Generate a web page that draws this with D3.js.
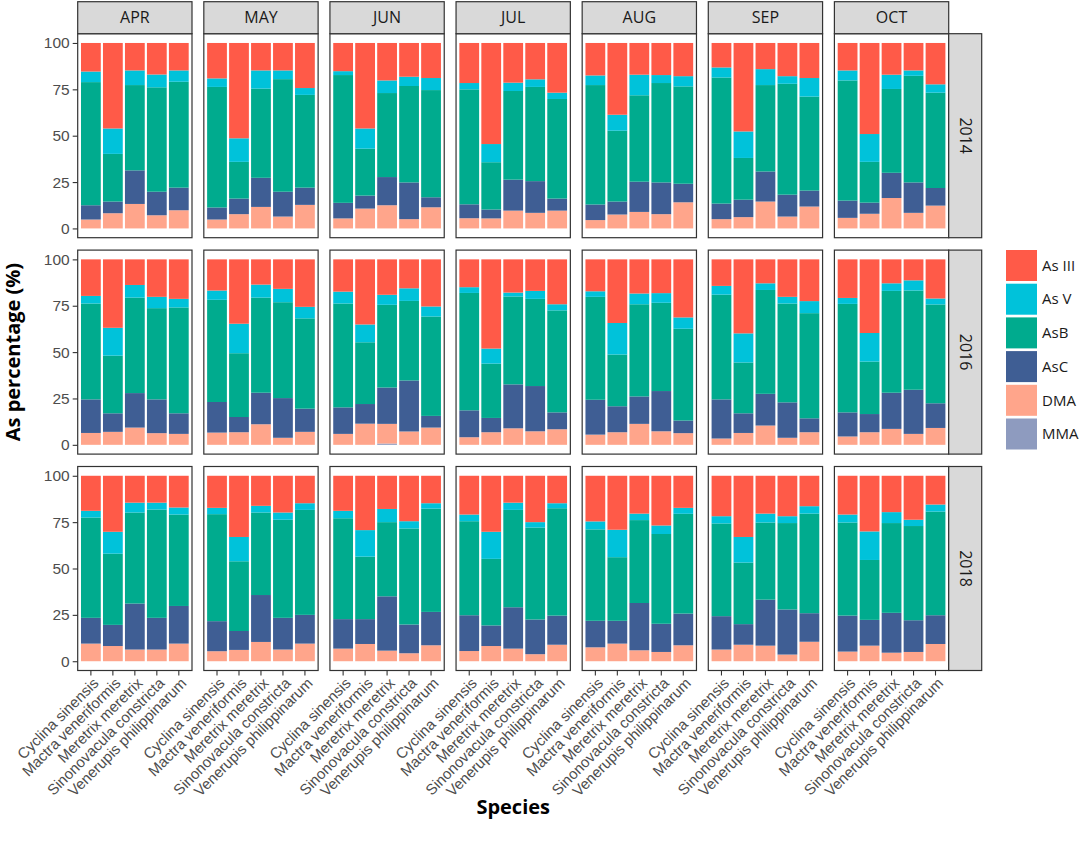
<!DOCTYPE html>
<html>
<head>
<meta charset="utf-8">
<script src="https://cdn.jsdelivr.net/npm/d3@7"></script>
<style>
  body { margin: 0; background: #fff; }
  svg { display: block; font-family: "Open Sans", "Noto Sans", sans-serif; }
</style>
</head>
<body>
<div id="chart"></div>
<script>
// Facets, categories and legend
const years = ['2014', '2016', '2018'];
const months = ['APR', 'MAY', 'JUN', 'JUL', 'AUG', 'SEP', 'OCT'];
const species = ['Cyclina sinensis', 'Mactra veneriformis', 'Meretrix meretrix',
    'Sinonovacula constricta', 'Venerupis philippinarum'];
const forms = ['As III', 'As V', 'AsB', 'AsC', 'DMA', 'MMA'];
const formColors = ['#ff5a48', '#00c2da', '#00ab8e', '#3f5e94', '#ffa58b', '#8e9bbf'];
const yTicks = [0, 25, 50, 75, 100];

// Percentages, 35 values per year: APR..OCT, each month the 5 species in order
const asIII2014 = [15.4, 46.1, 14.8, 17.0, 14.8, 19.1, 51.4, 14.8, 14.8, 24.3, 15.2, 46.1, 20.2, 18.2, 18.9,
    21.6, 54.5, 21.4, 19.6, 26.8, 17.5, 38.7, 17.1, 17.3, 17.9, 13.2, 47.7, 14.1, 17.9, 18.9, 14.8, 49.1, 17.1, 14.8, 22.3];
const asV2014 = [5.7, 13.7, 7.9, 6.9, 6.1, 4.6, 12.7, 9.8, 4.7, 3.7, 2.1, 10.9, 6.8, 5.0, 6.5,
    3.4, 9.8, 4.5, 4.1, 3.4, 5.2, 8.6, 11.1, 4.3, 5.5, 5.4, 14.3, 8.6, 4.1, 10.0, 5.4, 15.0, 7.7, 2.9, 4.5];
const asB2014 = [66.4, 25.7, 46.0, 56.3, 57.1, 65.0, 19.8, 48.1, 60.7, 50.0, 68.9, 25.3, 45.3, 52.0, 57.8,
    62.0, 25.5, 47.8, 50.8, 53.7, 64.4, 38.2, 46.6, 53.6, 52.5, 68.0, 22.5, 46.6, 59.8, 50.7, 64.8, 22.0, 45.2, 57.5, 51.4];
const asC2014 = [7.7, 6.3, 18.1, 12.7, 12.2, 6.5, 8.4, 15.7, 13.4, 9.3, 8.4, 7.0, 15.2, 19.8, 5.4,
    7.5, 4.8, 16.7, 17.1, 6.5, 8.4, 7.0, 16.3, 17.1, 10.0, 8.4, 9.4, 16.2, 11.8, 8.6, 9.3, 6.0, 13.6, 16.4, 9.5];
const dma2014 = [4.8, 8.2, 13.2, 7.1, 9.8, 4.8, 7.7, 11.6, 6.4, 12.7, 5.4, 10.7, 12.5, 5.0, 11.4,
    5.5, 5.4, 9.6, 8.4, 9.6, 4.5, 7.5, 8.9, 7.7, 14.1, 5.0, 6.1, 14.5, 6.4, 11.8, 5.7, 7.9, 16.4, 8.4, 12.3];

const asIII2016 = [19.7, 36.9, 13.8, 20.2, 21.3, 16.8, 34.7, 13.6, 15.9, 25.6, 17.4, 35.1, 19.1, 15.6, 25.4,
    15.0, 48.1, 17.9, 17.0, 24.2, 17.2, 34.3, 18.4, 18.2, 31.3, 14.3, 39.9, 12.9, 20.2, 22.5, 20.8, 39.7, 12.9, 11.3, 21.1];
const asV2016 = [4.1, 15.0, 6.8, 6.1, 4.6, 5.0, 15.9, 7.0, 7.2, 6.2, 6.4, 9.6, 5.4, 6.8, 5.4,
    3.1, 8.1, 2.1, 4.3, 3.3, 3.0, 17.0, 5.8, 5.2, 6.1, 4.7, 15.7, 3.6, 3.6, 6.5, 3.2, 15.4, 4.1, 5.5, 3.2];
const asB2016 = [51.7, 31.1, 51.5, 49.2, 57.1, 55.1, 34.4, 51.3, 51.7, 48.7, 56.0, 33.3, 44.6, 42.9, 53.6,
    63.3, 29.3, 47.4, 47.0, 55.0, 55.5, 27.9, 49.7, 47.6, 49.5, 56.5, 27.4, 56.0, 53.3, 56.7, 58.5, 28.3, 54.9, 53.5, 53.3];
const asC2016 = [18.1, 10.0, 18.6, 18.2, 11.1, 16.5, 8.2, 17.0, 21.4, 12.5, 14.3, 10.6, 19.6, 27.5, 6.3,
    14.5, 7.7, 23.7, 24.4, 9.1, 18.8, 14.0, 14.8, 21.7, 6.8, 21.1, 10.6, 17.1, 19.1, 7.5, 13.0, 9.8, 19.5, 23.8, 13.3];
const dma2016 = [6.4, 7.0, 9.3, 6.3, 5.9, 6.6, 6.8, 11.1, 3.8, 7.0, 5.9, 11.4, 10.6, 7.2, 9.3,
    4.1, 6.8, 8.9, 7.3, 8.4, 5.5, 6.8, 11.3, 7.3, 6.3, 3.4, 6.4, 10.4, 3.8, 6.8, 4.5, 6.8, 8.6, 5.9, 9.1];

const asIII2018 = [18.9, 30.2, 14.5, 14.5, 17.1, 17.3, 33.0, 16.2, 19.8, 14.8, 18.9, 29.3, 17.9, 24.5, 14.8,
    20.9, 30.2, 14.5, 25.0, 14.8, 24.6, 29.1, 20.4, 26.8, 17.3, 21.8, 33.0, 20.4, 21.8, 16.4, 20.9, 30.0, 19.6, 23.7, 15.5];
const asV2018 = [3.6, 11.8, 5.3, 3.7, 3.8, 3.4, 13.1, 3.6, 3.9, 3.6, 4.0, 14.3, 7.1, 3.9, 2.9,
    3.6, 14.6, 3.9, 2.9, 2.7, 4.3, 14.8, 3.5, 4.6, 3.2, 3.9, 13.8, 4.8, 3.7, 4.0, 4.3, 15.4, 5.9, 3.4, 3.8];
const asB2018 = [54.1, 38.4, 49.1, 58.4, 49.3, 57.7, 37.6, 44.5, 52.9, 56.6, 54.4, 33.7, 40.0, 51.8, 55.7,
    50.7, 35.9, 52.5, 49.6, 57.9, 49.3, 34.3, 44.7, 48.4, 53.8, 50.0, 33.2, 41.6, 46.6, 53.7, 50.2, 32.3, 48.4, 50.8, 55.9];
const asC2018 = [13.9, 11.4, 24.8, 17.1, 20.3, 16.2, 10.2, 25.3, 17.1, 15.5, 15.9, 13.4, 29.3, 15.5, 18.0,
    19.3, 11.1, 22.3, 18.7, 15.7, 14.3, 12.3, 25.5, 15.2, 17.1, 18.0, 11.1, 24.8, 24.3, 15.4, 19.4, 13.9, 21.5, 17.1, 15.5];
const dma2018 = [9.5, 8.2, 6.3, 6.3, 9.5, 5.4, 6.1, 10.4, 6.3, 9.5, 6.8, 9.3, 5.7, 4.3, 8.6,
    5.5, 8.2, 6.8, 3.8, 8.9, 7.5, 9.5, 5.9, 5.0, 8.6, 6.3, 8.9, 8.4, 3.6, 10.5, 5.2, 8.4, 4.6, 5.0, 9.3];

// MMA only shows up once (a thin sliver)
const mmaValues = [{ year: '2016', month: 'JUN', species: 'Meretrix meretrix', value: 0.7 }];

const seriesByYear = {
    '2014': [asIII2014, asV2014, asB2014, asC2014, dma2014],
    '2016': [asIII2016, asV2016, asB2016, asC2016, dma2016],
    '2018': [asIII2018, asV2018, asB2018, asC2018, dma2018]
};

const rows = [];
years.forEach((year) => {
    months.forEach((month, mi) => {
        species.forEach((sp, si) => {
            const i = mi * species.length + si;
            const row = { year, month, species: sp };
            seriesByYear[year].forEach((arr, k) => { row[forms[k]] = arr[i]; });
            const mma = mmaValues.find((m) => m.year === year && m.month === month && m.species === sp);
            row.MMA = mma ? mma.value : 0;
            rows.push(row);
        });
    });
});

// Layout
const width = 1079;
const height = 849;
const plot = { left: 77.7, right: 948.7, top: 33.7, bottom: 670.5 };
const stripSize = 32;
const textColor = '#4d4d4d';
const lineColor = '#333333';

const color = d3.scaleOrdinal().domain(forms).range(formColors);

const colX = d3.scaleBand().domain(months).range([plot.left, plot.right]).paddingInner(0.0937);
const rowY = d3.scaleBand().domain(years).range([plot.top, plot.bottom]).paddingInner(0.0573);

const x = d3.scaleBand().domain(species).range([0, colX.bandwidth()])
    .paddingInner(0.1).paddingOuter(0.15);
const y = d3.scaleLinear().domain([-5, 105]).range([rowY.bandwidth(), 0]);

const stackOrder = forms.slice().reverse(); // MMA at the bottom, As III on top
const stack = d3.stack().keys(stackOrder);

const svg = d3.select('#chart')
    .append('svg')
    .attr('width', width)
    .attr('height', height)
    .attr('viewBox', `0 0 ${width} ${height}`);

years.forEach((year, yi) => {
    months.forEach((month, mi) => {
        const panel = svg.append('g')
            .attr('transform', `translate(${colX(month)},${rowY(year)})`);

        const data = rows.filter((r) => r.year === year && r.month === month);
        const layers = stack(data);

        panel.selectAll('g.layer')
            .data(layers)
            .enter()
            .append('g')
            .attr('class', 'layer')
            .attr('fill', (d) => color(d.key))
            .selectAll('rect')
            .data((d) => d)
            .enter()
            .append('rect')
            .attr('x', (d) => x(d.data.species))
            .attr('width', x.bandwidth())
            .attr('y', (d) => y(d[1]))
            .attr('height', (d) => Math.max(0, y(d[0]) - y(d[1])));

        panel.append('rect')
            .attr('width', colX.bandwidth())
            .attr('height', rowY.bandwidth())
            .attr('fill', 'none')
            .attr('stroke', lineColor)
            .attr('stroke-width', 1.2);

        // y axis on the first column
        if (mi === 0) {
            const yAxis = panel.append('g')
                .call(d3.axisLeft(y).tickValues(yTicks).tickSize(5).tickPadding(3));
            yAxis.select('.domain').remove();
            yAxis.selectAll('line').attr('stroke', lineColor).attr('stroke-width', 1.1);
            yAxis.selectAll('text')
                .attr('fill', textColor)
                .style('font-size', '15.5px');
        }

        // x axis on the bottom row
        if (yi === years.length - 1) {
            const xAxis = panel.append('g')
                .attr('transform', `translate(0,${rowY.bandwidth()})`)
                .call(d3.axisBottom(x).tickSize(5).tickSizeOuter(0));
            xAxis.select('.domain').remove();
            xAxis.selectAll('line').attr('stroke', lineColor).attr('stroke-width', 1.1);
            xAxis.selectAll('text')
                .attr('fill', textColor)
                .style('font-size', '15px')
                .attr('text-anchor', 'end')
                .attr('y', 0)
                .attr('dy', '0.72em')
                .attr('transform', 'translate(1,6) rotate(-45)');
        }

        // month strip on top row
        if (yi === 0) {
            const strip = svg.append('g')
                .attr('transform', `translate(${colX(month)},${plot.top - stripSize})`);
            strip.append('rect')
                .attr('width', colX.bandwidth())
                .attr('height', stripSize)
                .attr('fill', '#d9d9d9')
                .attr('stroke', lineColor)
                .attr('stroke-width', 1.2);
            strip.append('text')
                .attr('x', colX.bandwidth() / 2)
                .attr('y', stripSize / 2)
                .attr('dy', '0.35em')
                .attr('text-anchor', 'middle')
                .attr('fill', '#1a1a1a')
                .style('font-size', '16px')
                .text(month);
        }
    });

    // year strip on the right
    const strip = svg.append('g')
        .attr('transform', `translate(${plot.right},${rowY(year)})`);
    strip.append('rect')
        .attr('width', 33)
        .attr('height', rowY.bandwidth())
        .attr('fill', '#d9d9d9')
        .attr('stroke', lineColor)
        .attr('stroke-width', 1.2);
    strip.append('text')
        .attr('transform', `translate(${33 / 2},${rowY.bandwidth() / 2}) rotate(90)`)
        .attr('dy', '0.35em')
        .attr('text-anchor', 'middle')
        .attr('fill', '#1a1a1a')
        .style('font-size', '16px')
        .text(year);
});

// axis titles
svg.append('text')
    .attr('transform', `translate(19.5,${(plot.top + plot.bottom) / 2}) rotate(-90)`)
    .attr('text-anchor', 'middle')
    .attr('fill', '#000')
    .style('font-size', '20px')
    .style('font-weight', 'bold')
    .text('As percentage (%)');

svg.append('text')
    .attr('x', (plot.left + plot.right) / 2)
    .attr('y', 814)
    .attr('text-anchor', 'middle')
    .attr('fill', '#000')
    .style('font-size', '20px')
    .style('font-weight', 'bold')
    .text('Species');

// legend
const legend = svg.append('g').attr('transform', 'translate(1006,250)');
const keySize = 31;
const keyStep = 33.7;

legend.selectAll('rect')
    .data(forms)
    .enter()
    .append('rect')
    .attr('y', (_, i) => i * keyStep)
    .attr('width', keySize)
    .attr('height', keySize)
    .attr('fill', (d) => color(d));

legend.selectAll('text')
    .data(forms)
    .enter()
    .append('text')
    .attr('x', keySize + 5)
    .attr('y', (_, i) => i * keyStep + keySize / 2)
    .attr('dy', '0.35em')
    .attr('fill', '#1a1a1a')
    .style('font-size', '15px')
    .text((d) => d);
</script>
</body>
</html>
